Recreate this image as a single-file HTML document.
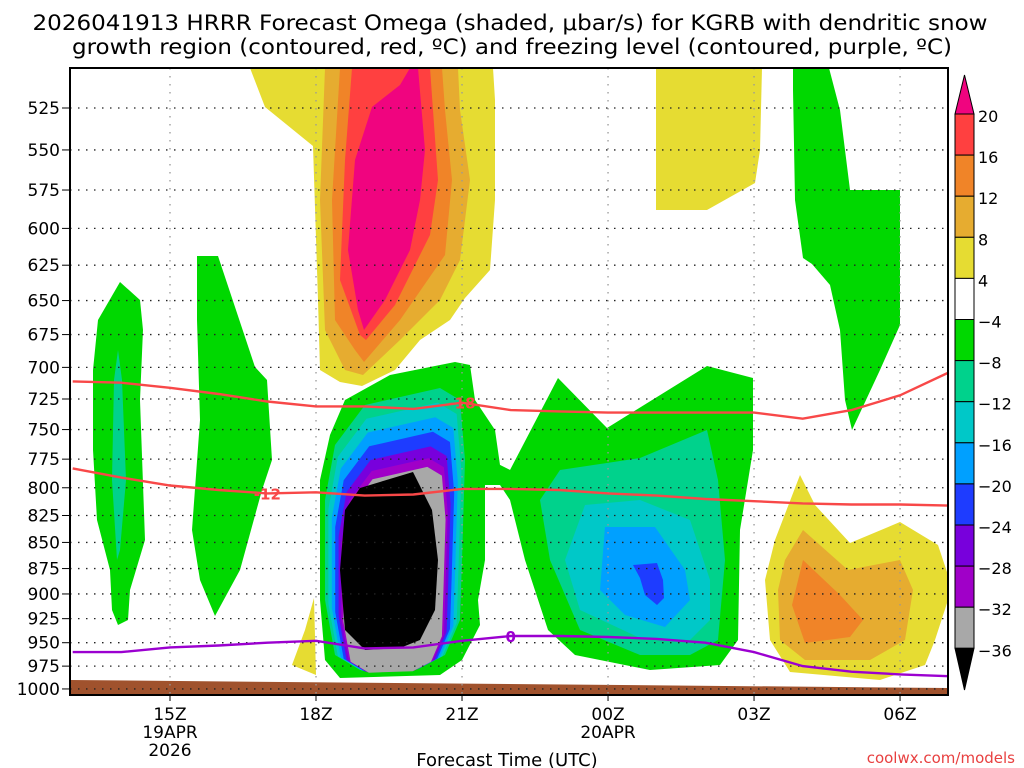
<!DOCTYPE html>
<html><head><meta charset="utf-8">
<style>
html,body{margin:0;padding:0;background:#fff;}
svg{display:block;}
text{font-family:"DejaVu Sans","Liberation Sans",sans-serif;}
</style></head>
<body>
<svg id="chart" width="1024" height="768" viewBox="0 0 1024 768" xmlns="http://www.w3.org/2000/svg">
<text x="510" y="30" font-size="21" text-anchor="middle" textLength="955" lengthAdjust="spacingAndGlyphs">2026041913 HRRR Forecast Omega (shaded, μbar/s) for KGRB with dendritic snow</text>
<text x="512" y="54" font-size="21" text-anchor="middle" textLength="880" lengthAdjust="spacingAndGlyphs">growth region (contoured, red, ºC) and freezing level (contoured, purple, ºC)</text>
<g id="fills"></g>
<g id="grid"></g>
<g id="lines"></g>
<g id="axes"></g>
<g id="cbar"></g>
<text x="507" y="766" font-size="18" text-anchor="middle">Forecast Time (UTC)</text>
<text x="1015" y="763" font-size="15" fill="#e84040" text-anchor="end" font-family="Liberation Mono, monospace">coolwx.com/models</text>
</svg>
<script>
// ---- data ----
const hours = [13,14,15,16,17,18,19,20,21,22,23,24,25,26,27,28,29,30,31];
const dgzUpper = [711,712,716,721,727,731,731,733,728,734,735,736,736,736,736,741,734,722,704];
const dgzLower = [783,791,798,802,805,804,807,806,801,801,802,805,807,810,812,814,815,815,816];
const freezing = [960,960,955,953,950,948,956,955,948,943,943,944,946,950,960,975,981,984,986];
const pressureTicks = [525,550,575,600,625,650,675,700,725,750,775,800,825,850,875,900,925,950,975,1000];
const timeTickHours = [15,18,21,24,27,30];
const timeTickLabels = ["15Z","18Z","21Z","00Z","03Z","06Z"];
const timeTickDates = ["19APR\n2026","","","20APR","",""];
const cbarLevels = ["20","16","12","8","4","\u22124","\u22128","\u221212","\u221216","\u221220","\u221224","\u221228","\u221232","\u221236"];
const cbarColors = ["#ff4040","#f08428","#e6ac30","#e6dc32","#ffffff","#00d800","#00d28c","#00c8c8","#00a0ff","#1e3cff","#7800dc","#a000c8","#a8a8a8"];

// ---- scales ----
const X0=70,X1=948,Y0=68,Y1=695;
const xs = h => 170 + (h-15)*48.67;
const ys = p => 108 + 901.6*Math.log(p/525);
const NS="http://www.w3.org/2000/svg";
function mk(tag, attrs, parent){const e=document.createElementNS(NS,tag);for(const k in attrs)e.setAttribute(k,attrs[k]);parent.appendChild(e);return e;}

const fills=document.getElementById('fills');
const C={y4:"#e6dc32",y8:"#e6ac30",y12:"#f08428",y16:"#ff4040",y20:"#f0047f",g:"#00d800",t:"#00d28c",c:"#00c8c8",lb:"#00a0ff",b:"#1e3cff",p:"#7800dc",v:"#a000c8",gr:"#a8a8a8",k:"#000"};
function poly(name,color,pts){
  const e=mk('polygon',{points:pts.map(p=>p.join(',')).join(' '),fill:color},fills);
  
  
}
const defs=mk('defs',{},document.getElementById('chart'));
const cp=mk('clipPath',{id:'plotclip'},defs);
mk('rect',{x:X0,y:Y0,width:X1-X0,height:Y1-Y0},cp);
fills.setAttribute('clip-path','url(#plotclip)');

poly('omega-pos-4','#e6dc32',[[250,68],[493,68],[495,100],[495,200],[490,270],[465,298],[450,320],[420,340],[395,370],[362,386],[340,382],[320,370],[318,300],[313,146],[265,107]]);
poly('omega-pos-8',C.y8,[[325,68],[458,68],[460,110],[470,180],[460,260],[440,300],[400,340],[363,375],[345,370],[325,330],[320,200]]);
poly('omega-pos-12',C.y12,[[340,68],[442,68],[445,110],[452,180],[445,255],[400,320],[364,362],[355,350],[335,320],[332,200]]);
poly('omega-pos-16',C.y16,[[352,68],[430,68],[438,180],[430,235],[395,305],[366,340],[360,335],[340,280],[345,160]]);
poly('omega-pos-20',C.y20,[[410,68],[418,68],[425,150],[420,200],[410,250],[385,300],[364,330],[358,310],[348,250],[355,160],[372,107],[400,85]]);
poly('omega-pos-top-right','#e6dc32',[[656,68],[762,68],[760,150],[755,183],[707,210],[656,210]]);
poly('omega-neg-left-column',C.g,[[120,282],[140,300],[143,330],[140,400],[145,540],[130,590],[128,620],[118,625],[112,610],[110,570],[97,520],[93,450],[93,370],[98,320]]);
poly('omega-neg-left-core',C.t,[[118,350],[122,380],[126,480],[120,550],[117,560],[112,480],[114,380]]);
poly('omega-neg-second-column',C.g,[[197,256],[218,256],[255,367],[267,380],[272,460],[262,490],[240,570],[215,616],[200,580],[192,530],[200,420],[197,320]]);
poly('omega-neg-right-column',C.g,[[793,68],[829,68],[840,110],[850,190],[900,190],[900,325],[880,370],[852,430],[845,400],[840,330],[830,285],[812,264],[803,258],[795,200],[793,90]]);
poly('omega-pos-small',C.y4,[[314,598],[316,675],[292,665],[305,630]]);
poly('omega-neg-central',C.g,[[345,400],[390,375],[455,362],[470,365],[475,400],[495,430],[500,465],[510,470],[510,485],[485,485],[485,560],[478,600],[480,625],[462,660],[440,675],[340,678],[325,660],[320,600],[320,480],[330,435]]);
poly('omega-neg-right',C.g,[[500,465],[510,470],[558,378],[607,428],[707,366],[753,378],[753,450],[740,530],[738,640],[720,665],[650,670],[575,655],[548,630],[525,560],[510,500],[500,485]]);
poly('omega-neg-right-8',C.t,[[560,470],[640,458],[707,430],[718,480],[725,560],[718,640],[690,655],[640,655],[580,630],[550,560],[540,500]]);
poly('omega-neg-right-12',C.c,[[585,505],[640,500],[690,520],[710,580],[710,620],[690,640],[640,638],[580,610],[565,560]]);
poly('omega-neg-right-16',C.lb,[[605,527],[655,527],[685,570],[690,600],[665,627],[625,615],[600,590]]);
poly('omega-neg-right-20',C.b,[[633,565],[657,563],[663,580],[664,598],[657,605],[645,595],[640,578]]);
poly('omega-pos-right-4',C.y4,[[800,475],[815,505],[850,543],[900,522],[938,545],[948,575],[948,600],[935,640],[925,665],[880,680],[790,672],[770,640],[765,580],[775,540]]);
poly('omega-pos-right-8',C.y8,[[803,530],[848,570],[900,560],[913,590],[905,640],[870,660],[805,660],[780,640],[778,590],[785,560]]);
poly('omega-pos-right-12',C.y12,[[803,560],[840,595],[863,620],[850,637],[805,643],[792,605]]);
const teal=[[440,388],[460,400],[465,460],[462,560],[460,620],[445,655],[420,668],[360,670],[335,655],[325,600],[325,500],[335,445],[365,405]];
const nest=[[C.t,1],[C.c,.95],[C.lb,.9],[C.b,.85],[C.p,.8],[C.v,.76],[C.gr,.73]];
nest.forEach((n,i)=>{
  poly('omega-neg-central-level-'+i,n[0],teal.map(p=>[393+(p[0]-393)*n[1],680+(p[1]-680)*n[1]]));
});
poly('omega-neg-central-core',C.k,[[360,488],[413,472],[432,510],[438,560],[435,610],[420,640],[400,648],[365,650],[345,630],[340,570],[345,510]]);
poly('ground','#a0522d',[[68,680],[948,688],[948,696],[68,696]]);

const grid=document.getElementById('grid');
pressureTicks.forEach(p=>{
  const l=mk('line',{x1:X0,x2:X1,y1:ys(p),y2:ys(p),stroke:'#222','stroke-width':1.3,'stroke-dasharray':'1.5 6.5'},grid);
  
  
});
timeTickHours.forEach(h=>{
  const l=mk('line',{x1:xs(h),x2:xs(h),y1:Y0,y2:Y1,stroke:'#999','stroke-width':1.3,'stroke-dasharray':'1.5 6.5'},grid);
  
  
});

const lines=document.getElementById('lines');
function series(name,vals,color){
  const d=vals.map((v,i)=>(i?'L':'M')+xs(hours[i]).toFixed(1)+','+ys(v).toFixed(1)).join(' ');
  const e=mk('path',{d:d,fill:'none',stroke:color,'stroke-width':2.4},lines);
  
  
}
series('dgz-upper-contour',dgzUpper,'#f84848');
series('dgz-lower-contour',dgzLower,'#f84848');
series('freezing-level-contour',freezing,'#9b00d0');
function lab(name,txt,h,vals,color){
  const i=hours.indexOf(h), x=xs(h), y=ys(vals[i]);
  const t=mk('text',{x:x,y:y+6,'font-size':15,'font-weight':'bold','text-anchor':'middle',fill:color},lines);
  t.textContent=txt;
  
  
}
lab('dgz-upper-label','-18',21,dgzUpper,'#f84848');
lab('dgz-lower-label','-12',17,dgzLower,'#f84848');
lab('freezing-level-label','0',22,freezing,'#9b00d0');

const axes=document.getElementById('axes');
const fr=mk('rect',{x:X0,y:Y0,width:X1-X0,height:Y1-Y0,fill:'none',stroke:'#000','stroke-width':2},axes);


pressureTicks.forEach(p=>{
  mk('line',{x1:X0-8,x2:X0,y1:ys(p),y2:ys(p),stroke:'#000','stroke-width':1},axes);
  const t=mk('text',{x:X0-10,y:ys(p)+6,'font-size':17,'text-anchor':'end'},axes);
  t.textContent=p;
  
  
});
timeTickHours.forEach((h,i)=>{
  mk('line',{x1:xs(h),x2:xs(h),y1:Y1,y2:Y1+6,stroke:'#000','stroke-width':1},axes);
  const t=mk('text',{x:xs(h),y:720,'font-size':17,'text-anchor':'middle'},axes);
  t.textContent=timeTickLabels[i];
  
  
  timeTickDates[i].split('\n').forEach((s,j)=>{
    if(!s)return;
    const d=mk('text',{x:xs(h),y:738+j*18,'font-size':17,'text-anchor':'middle'},axes);
    d.textContent=s;
    
    
  });
});

const cb=document.getElementById('cbar');
const CX=955,CW=19,CT=114,CH=41.1;
const cbTop=mk('polygon',{points:`${CX},${CT} ${CX+CW},${CT} ${CX+CW/2},75`,fill:C.y20,stroke:'#000','stroke-width':1},cb);


cbarColors.forEach((c,i)=>{
  const r=mk('rect',{x:CX,y:CT+i*CH,width:CW,height:CH,fill:c,stroke:'#000','stroke-width':1},cb);
  
  
});
const yb=CT+cbarColors.length*CH;
const cbBot=mk('polygon',{points:`${CX},${yb} ${CX+CW},${yb} ${CX+CW/2},690`,fill:'#000',stroke:'#000','stroke-width':1},cb);


cbarLevels.forEach((s,i)=>{
  const t=mk('text',{x:978,y:CT+i*CH+8,'font-size':16},cb);
  t.textContent=s;
  
  
});
</script>
</body></html>
